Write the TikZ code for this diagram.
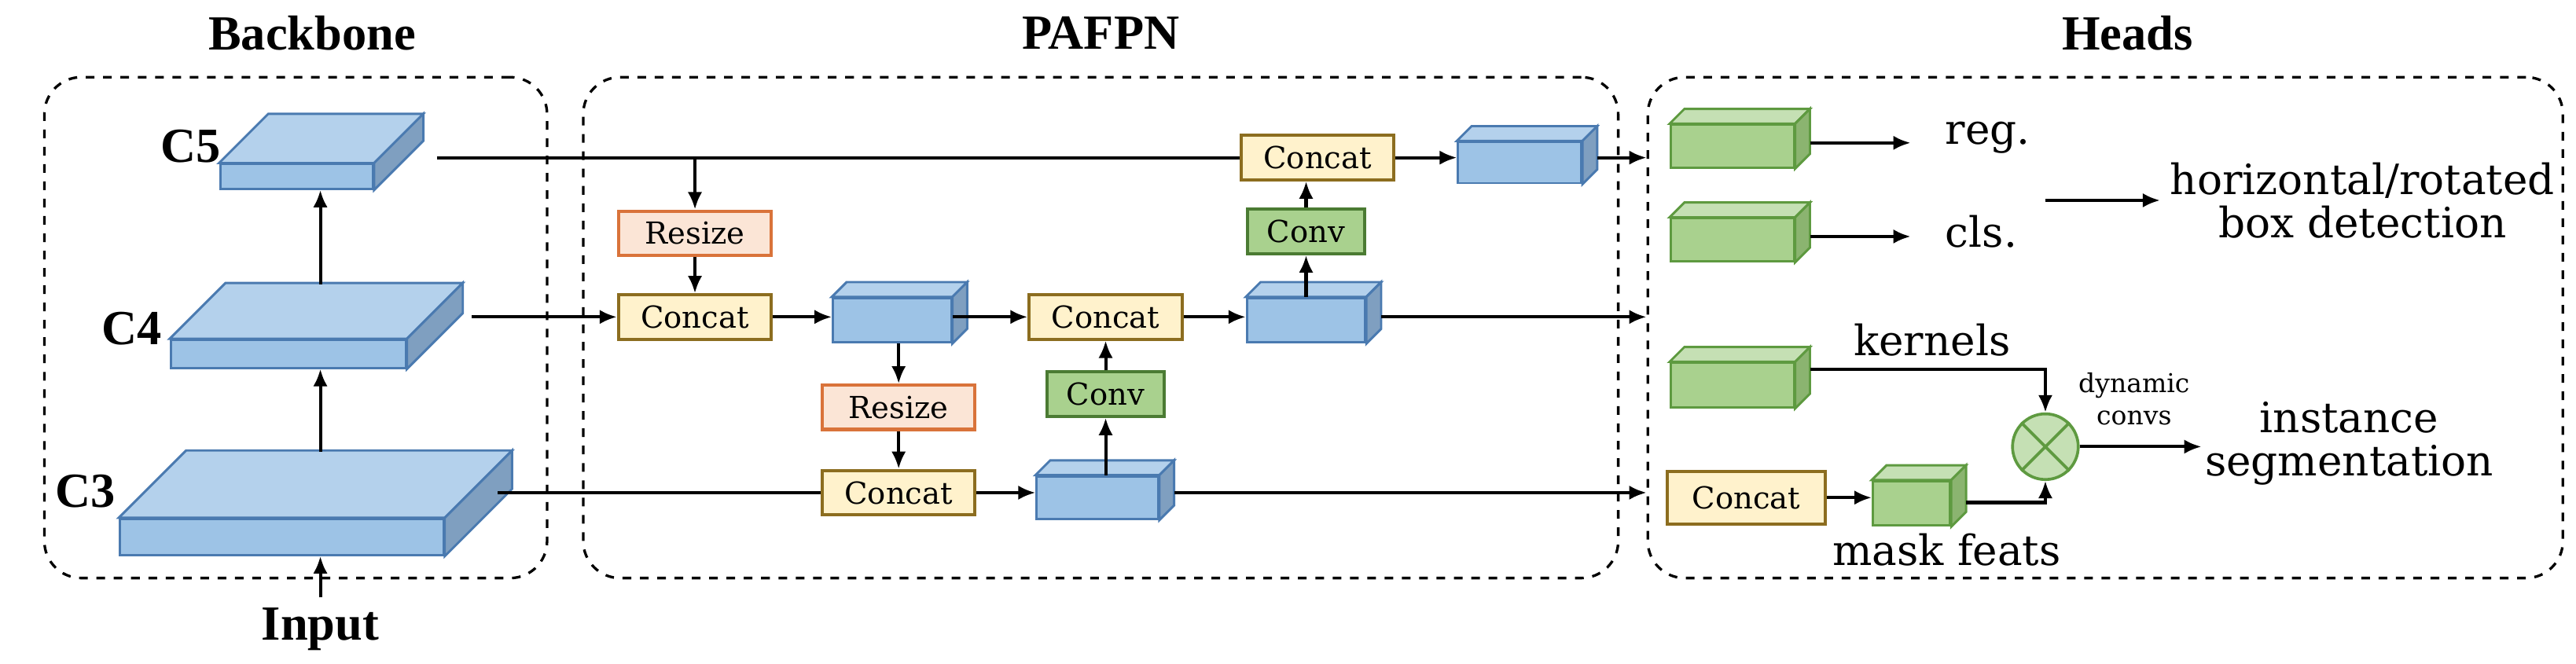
\documentclass[tikz,border=0pt]{standalone}
\usepackage{fontspec}
\setmainfont{DejaVu Serif}[BoldFont={Liberation Serif Bold}]
\usetikzlibrary{arrows.meta,shapes.misc}

\definecolor{bluefront}{HTML}{9DC3E6}
\definecolor{bluetop}{HTML}{B4D1EC}
\definecolor{blueside}{HTML}{7F9FC0}
\definecolor{blueline}{HTML}{4A7AB0}
\definecolor{greenfront}{HTML}{A9D18E}
\definecolor{greentop}{HTML}{C5E0B4}
\definecolor{greenside}{HTML}{8BB470}
\definecolor{greenline}{HTML}{5E9A40}
\definecolor{catfill}{HTML}{FFF2CC}
\definecolor{catline}{HTML}{8C6D1F}
\definecolor{rsfill}{HTML}{FBE5D6}
\definecolor{rsline}{HTML}{D9733A}

\tikzset{
  group/.style={draw, dashed, line width=0.9pt, rounded corners=0.45cm, inner sep=0},
  title/.style={font=\fontsize{17}{20}\selectfont\bfseries},
  concat/.style={draw=catline, fill=catfill, line width=1.1pt, minimum width=93*0.02cm, minimum height=27*0.02cm, font=\fontsize{10.5}{12}\selectfont},
  resize/.style={concat, draw=rsline, fill=rsfill},
  conv/.style={concat, draw=greenline!80!black, fill=greenfront, minimum width=71*0.02cm},
  txt/.style={font=\fontsize{14.5}{17}\selectfont},
  flow/.style={-{Latex[length=6pt,width=5pt]}, line width=1.1pt},
  line/.style={line width=1.1pt},
}

% front face is a named node, top and side are drawn from its anchors
\newcommand\slab[6]{%
  \node[draw=#6line, fill=#6front, line width=0.8pt, inner sep=0,
        minimum width=#3*0.02cm, minimum height=#4*0.02cm] (#1) at #2 {};
  \draw[#6line, fill=#6top, line width=0.8pt] (#1.north west) -- ++(#5,-#5)
    -- ([shift={(#5,-#5)}]#1.north east) -- (#1.north east) -- cycle;
  \draw[#6line, fill=#6side, line width=0.8pt] (#1.north east) -- ++(#5,-#5)
    -- ([shift={(#5,-#5)}]#1.south east) -- (#1.south east) -- cycle;
}

\begin{document}
\begin{tikzpicture}[x=0.02cm, y=-0.02cm]
  \useasboundingbox (0,0) rectangle (1568,404);

  % Groups
  \node[group, minimum width=306*0.02cm, minimum height=305*0.02cm] (bb) at (180,199.5) {};
  \node[group, minimum width=630*0.02cm, minimum height=305*0.02cm] (fpn) at (670,199.5) {};
  \node[group, minimum width=557*0.02cm, minimum height=305*0.02cm] (hd) at (1281.5,199.5) {};
  \node[title] at (190,20) {Backbone};
  \node[title] at (670,20) {PAFPN};
  \node[title] at (1295,20) {Heads};

  % Backbone
  \slab{C5}{(180.5,107.5)}{93}{15}{30}{blue}
  \slab{C4}{(175.5,215.5)}{143}{17}{34}{blue}
  \slab{C3}{(171.5,327)}{197}{22}{41}{blue}
  \node[title] (lc5) at (116,89) {C5};
  \node[title] (lc4) at (80,200) {C4};
  \node[title] (lc3) at (52,299) {C3};
  \node[title] (inp) at (195,383) {Input};
  \draw[flow] (inp.north) -- (C3.south -| inp.north);
  \draw[flow] (195,275) -- (C4.south -| 195,0);
  \draw[flow] (195,173) -- (C5.south -| 195,0);
  \coordinate (c5out) at (266,96);
  \coordinate (c4out) at (287,193);
  \coordinate (c3out) at (303,300);

  % PAFPN
  \node[resize] (rs1) at (423,142) {Resize};
  \node[concat] (cat1) at (423,193) {Concat};
  \slab{P4a}{(543,195)}{72}{27}{9}{blue}
  \node[concat] (cat2) at (673,193) {Concat};
  \slab{P4b}{(795,195)}{72}{27}{9}{blue}
  \node[conv] (cv1) at (795,141) {Conv};
  \node[concat] (cat3) at (802,96) {Concat};
  \slab{P5}{(925,99)}{75}{25}{9}{blue}
  \node[resize] (rs2) at (547,248) {Resize};
  \node[concat] (cat4) at (547,300) {Concat};
  \slab{P3}{(668,303)}{74}{26}{9}{blue}
  \node[conv] (cv2) at (673,240) {Conv};

  \draw[line] (c5out) -- (cat3.west);
  \draw[flow] (c5out -| rs1) -- (rs1);
  \draw[flow] (rs1) -- (cat1);
  \draw[flow] (c4out) -- (cat1.west);
  \draw[flow] (cat1) -- (P4a.west |- cat1);
  \draw[flow] (P4a.east |- cat2) -- (cat2);
  \draw[flow] (cat2) -- (P4b.west |- cat2);
  \draw[flow] (P4b.north -| cv1) -- (cv1);
  \draw[flow] (cv1) -- (cv1 |- cat3.south);
  \draw[flow] (cat3) -- (P5.west |- cat3);
  \draw[flow] (P4a.south -| rs2) -- (rs2);
  \draw[flow] (rs2) -- (cat4);
  \draw[line] (c3out) -- (cat4.west);
  \draw[flow] (cat4) -- (P3.west |- cat4);
  \draw[flow] (P3.north -| cv2) -- (cv2);
  \draw[flow] (cv2) -- (cat2);
  \draw[flow] ([xshift=9*0.02cm]P5.east |- cat3) -- (hd.west |- cat3);
  \draw[flow] ([xshift=9*0.02cm]P4b.east |- cat2) -- (hd.west |- cat2);
  \draw[flow] ([xshift=9*0.02cm]P3.east |- cat4) -- (hd.west |- cat4);

  % Heads
  \slab{hreg}{(1054.5,89)}{75}{26}{9}{green}
  \slab{hcls}{(1054.5,146)}{75}{26}{9}{green}
  \slab{hker}{(1054.5,234.5)}{75}{27}{9}{green}
  \node[concat, minimum width=96*0.02cm, minimum height=32*0.02cm] (hcat) at (1063,303) {Concat};
  \slab{mask}{(1163.5,306.5)}{47}{27}{9}{green}
  \node[circle, draw=greenline, fill=greentop, line width=1pt, minimum size=40*0.02cm, inner sep=0] (mul) at (1245,272) {};
  \draw[greenline, line width=1pt] (mul.north west) -- (mul.south east) (mul.north east) -- (mul.south west);

  \coordinate (regend) at (1163,87);
  \coordinate (clsend) at (1163,144);
  \node[txt, anchor=west] (reg) at (1178,84) {reg.};
  \node[txt, anchor=west] (cls) at (1178,141) {cls.};
  \node[txt, align=center] (box) at (1438,122) {horizontal/rotated\\[-2pt]box detection};
  \node[txt] (ker) at (1176,207) {kernels};
  \node[font=\fontsize{9}{11}\selectfont, align=center] (dyn) at (1299,243) {dynamic\\convs};
  \node[txt, align=center] (seg) at (1430,270) {instance\\[-2pt]segmentation};
  \node[txt] (mf) at (1185,335) {mask feats};

  \draw[flow] ([xshift=9*0.02cm]hreg.east |- regend) -- (regend);
  \draw[flow] ([xshift=9*0.02cm]hcls.east |- clsend) -- (clsend);
  \draw[flow] (1245,122) -- (box.west);
  \draw[flow] ([xshift=9*0.02cm]hker.east |- 0,225) -| (mul.north);
  \draw[flow] (hcat) -- (mask.west |- hcat);
  \draw[flow] ([xshift=9*0.02cm]mask.east |- 0,306) -| (mul.south);
  \draw[flow] (mul.east) -- (1340,272);
\end{tikzpicture}
\end{document}
